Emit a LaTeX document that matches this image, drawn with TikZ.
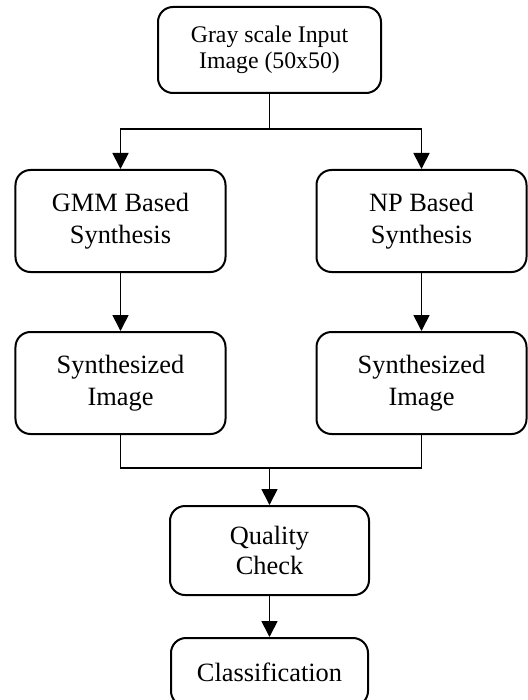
\documentclass[tikz,border=0pt]{standalone}
\usepackage{fontspec}
\setmainfont{Liberation Serif}
\usetikzlibrary{positioning,arrows.meta}

\begin{document}
\begin{tikzpicture}[
    >={Triangle[length=8pt,width=8pt]},
    box/.style={rectangle, draw, line width=1pt, rounded corners=7.5pt, minimum width=105pt, minimum height=51pt, align=center, font=\fontsize{13.2}{16}\selectfont},
    link/.style={line width=0.85pt},
]
\useasboundingbox (-134.75pt,25pt) rectangle (128.75pt,-325pt);

% Top: input
\node[box, minimum width=111.5pt, minimum height=43pt, font=\fontsize{11.9}{13.3}\selectfont] (input) {Gray scale Input\\Image (50x50)};

% Second row: the two synthesis methods
\node[box, below=37.5pt of input, xshift=-74.5pt] (gmm) {GMM Based\\Synthesis};
\node[box, below=37.5pt of input, xshift=76pt] (np) {NP Based\\Synthesis};

% Third row: outputs
\node[box, below=29pt of gmm] (synl) {Synthesized\\Image};
\node[box, below=29pt of np] (synr) {Synthesized\\Image};

% Split and merge points
\coordinate[below=17.5pt of input.south] (split);
\coordinate[below=16.5pt of synl.south] (low);
\coordinate (merge) at (input |- low);

% Bottom: check and classification
\node[box, below=18.5pt of merge, minimum width=99.5pt, minimum height=44.5pt, font=\fontsize{13.2}{14.7}\selectfont] (quality) {Quality\\Check};
\node[box, below=20.5pt of quality, minimum width=98.5pt, minimum height=34pt] (classify) {Classification};

% Arrows
\draw[link] (input) -- (split);
\draw[link,->] (split) -| (gmm);
\draw[link,->] (split) -| (np);
\draw[link,->] (gmm) -- (synl);
\draw[link,->] (np) -- (synr);
\draw[link] (synl) |- (merge) -| (synr);
\draw[link,->] (merge) -- (quality);
\draw[link,->] (quality) -- (classify);

\end{tikzpicture}
\end{document}
